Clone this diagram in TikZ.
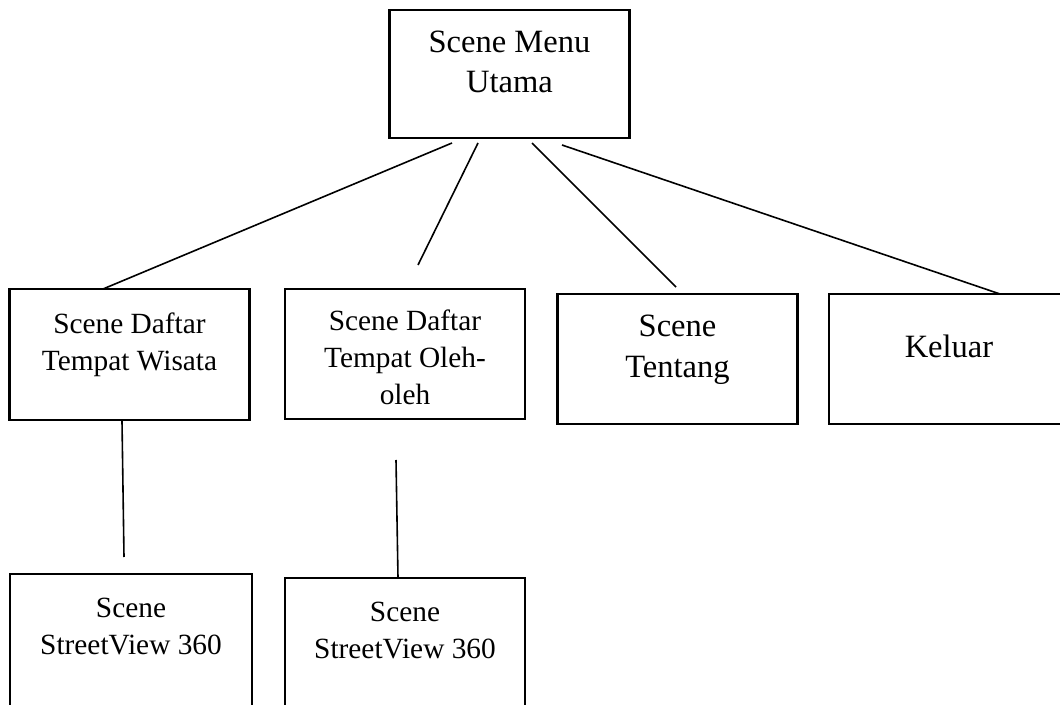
\documentclass[tikz,border=0pt]{standalone}
\usepackage{fontspec}
\setmainfont{Liberation Serif}
\tikzset{
  scene box/.style={draw=black,line width=2pt,minimum width=180pt,minimum height=97.5pt,inner sep=0pt},
  scene label/.style={align=center,inner sep=0pt,font=\fontsize{22}{27.75}\selectfont},
  scene title/.style={align=center,inner sep=0pt,font=\fontsize{24.4}{30.5}\selectfont},
  scene link/.style={draw=black,line width=1.2pt}
}

\begin{document}
\begin{tikzpicture}[x=0.75pt,y=-0.75pt]
        \useasboundingbox (0,0) rectangle (1060,705);
        \clip (0,0) rectangle (1060,705);
        \fill[white] (0,0) rectangle (1060,705);

        % menu utama
        \node[scene box,minimum height=96pt] (menu) at (509.5,74) {};
        \node[scene title] (menu text) at (509.5,62) {Scene Menu\\Utama};

        % second row
        \node[scene box,minimum height=98.25pt] (wisata) at (129.5,354.5) {};
        \node[scene label] (wisata text) at (129.5,345) {Scene Daftar\\Tempat Wisata};
        \node[scene box] (oleh) at (405,354) {};
        \node[scene label] (oleh text) at (405,357) {Scene Daftar\\Tempat Oleh-\\oleh};
        \node[scene box] (tentang) at (677.5,359) {};
        \node[scene title] (tentang text) at (677.5,350) {Scene\\Tentang};
        \node[scene box] (keluar) at (949,359) {};
        \node[scene title] (keluar text) at (949,346) {Keluar};

        % third row
        \node[scene box,minimum width=181.5pt,minimum height=102pt] (wisata view) at (131,642) {};
        \node[scene label] (wisata view text) at (131,627) {Scene\\StreetView 360};
        \node[scene box,minimum height=102pt] (oleh view) at (405,646) {};
        \node[scene label] (oleh view text) at (405,631) {Scene\\StreetView 360};

        % free ends of the links
        \coordinate (menu a) at (452,143);
        \coordinate (menu b) at (478,143);
        \coordinate (menu c) at (532,143);
        \coordinate (menu d) at (562,145);
        \coordinate (wisata top) at (103,289);
        \coordinate (oleh top) at (418,265);
        \coordinate (tentang top) at (676,287);
        \coordinate (keluar top) at (1000,294);
        \coordinate (wisata bottom) at (122,421);
        \coordinate (wisata view top) at (124,557);
        \coordinate (oleh bottom) at (396,460);
        \coordinate (oleh view top) at (398,578);

        \draw[scene link] (menu a) -- (wisata top);
        \draw[scene link] (menu b) -- (oleh top);
        \draw[scene link] (menu c) -- (tentang top);
        \draw[scene link] (menu d) -- (keluar top);
        \draw[scene link] (wisata bottom) -- (wisata view top);
        \draw[scene link] (oleh bottom) -- (oleh view top);
      \end{tikzpicture}
\end{document}
